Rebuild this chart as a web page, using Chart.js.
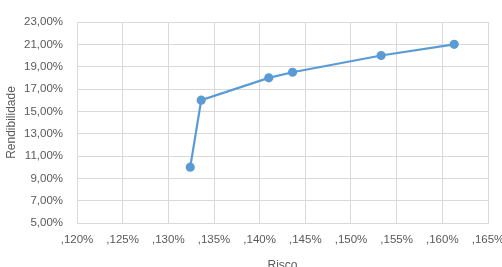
<!DOCTYPE html>
<html>
<head>
<meta charset="utf-8">
<script src="https://cdn.jsdelivr.net/npm/chart.js@4"></script>
<style>
  html, body { margin: 0; padding: 0; background: #fff; overflow: hidden; width: 502px; height: 267px; }
  #wrap { width: 502px; height: 277px; }
</style>
</head>
<body>
<div id="wrap"><canvas id="grafico" width="502" height="277"></canvas></div>
<script>
// risco (%) e rendibilidade (%) de cada carteira
const risco = [0.1324, 0.1336, 0.1410, 0.1436, 0.1533, 0.1613];
const rendibilidade = [10.0, 16.0, 18.0, 18.5, 20.0, 21.0];

const xMin = 0.120, xMax = 0.165, xStep = 0.005;
const yMin = 5, yMax = 23, yStep = 2;

const pontos = risco.map((r, i) => ({ x: r, y: rendibilidade[i] }));

const cinza = '#595959';
const fonte = { family: 'Liberation Sans', size: 11.5 };

const ctx = document.getElementById('grafico').getContext('2d');
new Chart(ctx, {
    type: 'scatter',
    data: {
        datasets: [{
            data: pontos,
            showLine: true,
            borderColor: '#5B9BD5',
            backgroundColor: '#5B9BD5',
            borderWidth: 2.2,
            pointRadius: 3.5,
            pointHoverRadius: 3.5,
            tension: 0
        }]
    },
    options: {
        responsive: false,
        animation: false,
        layout: { padding: { left: 0, top: 22, right: 14, bottom: 0 } },
        plugins: { legend: { display: false }, tooltip: { enabled: false } },
        scales: {
            x: {
                type: 'linear',
                min: xMin,
                max: xMax,
                grid: { color: '#d9d9d9', drawTicks: false },
                border: { color: '#d9d9d9' },
                ticks: {
                    stepSize: xStep,
                    padding: 10,
                    color: cinza,
                    font: fonte,
                    maxRotation: 0,
                    callback: v => ',' + v.toFixed(3).split('.')[1] + '%'
                },
                title: { display: true, text: 'Risco', color: cinza, font: { family: 'Liberation Sans', size: 12 }, padding: { top: 5 } },
                afterFit: s => { s.height = 54; s.paddingLeft = 0; s.paddingRight = 0; }
            },
            y: {
                min: yMin,
                max: yMax,
                grid: { color: '#d9d9d9', drawTicks: false },
                border: { color: '#d9d9d9' },
                ticks: {
                    stepSize: yStep,
                    padding: 14,
                    color: cinza,
                    font: fonte,
                    callback: v => v.toFixed(2).replace('.', ',') + '%'
                },
                title: { display: true, text: 'Rendibilidade', color: cinza, font: { family: 'Liberation Sans', size: 12 }, padding: { bottom: 2 } },
                afterFit: s => { s.width = 77; s.paddingTop = 0; s.paddingBottom = 0; }
            }
        }
    }
});
</script>
</body>
</html>
